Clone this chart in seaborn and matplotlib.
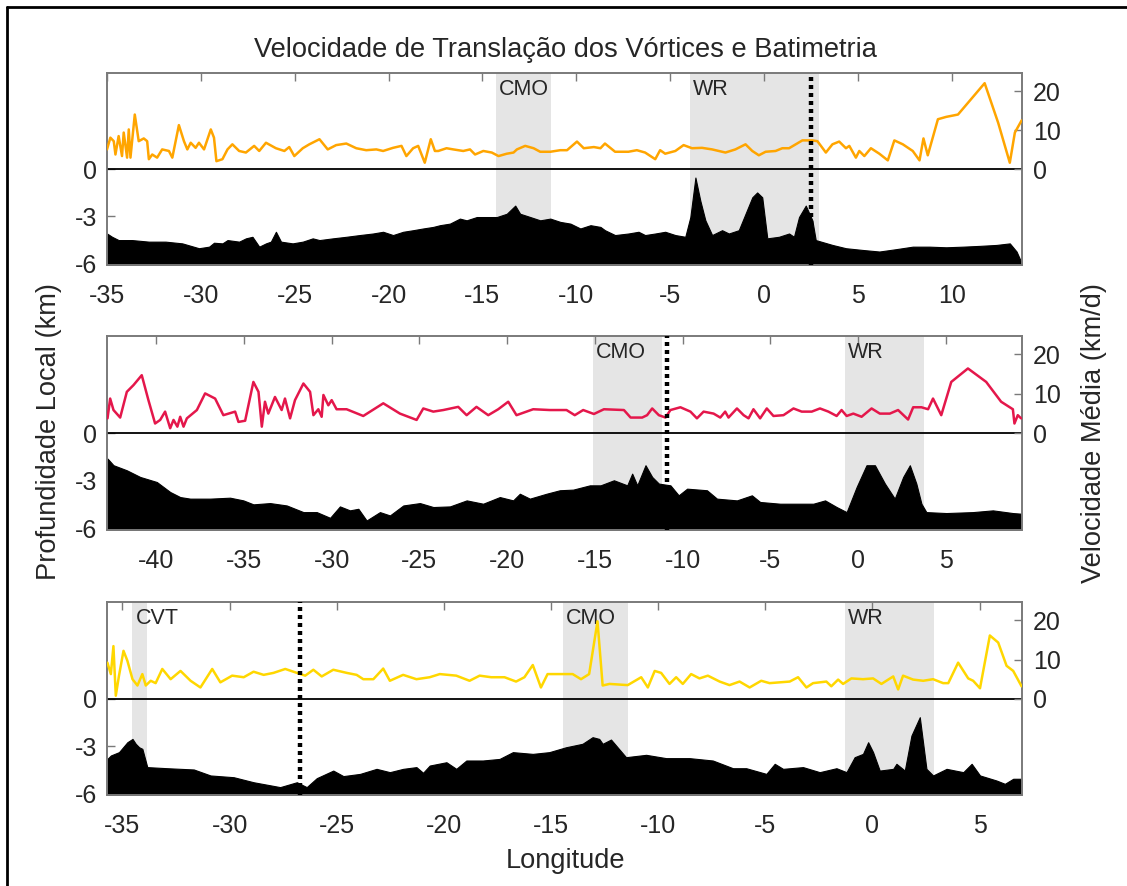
import matplotlib
matplotlib.use("Agg")
import matplotlib.pyplot as plt
import matplotlib.transforms as mtransforms
from matplotlib.lines import Line2D
import seaborn as sns

# ---------------- data ----------------
# Panel 1 (orange)
lon1_spd = [-35.0,-34.82,-34.64,-34.55,-34.38,-34.2,-34.11,-33.93,-33.84,-33.75,
            -33.52,-33.31,-33.04,-32.86,-32.77,-32.59,-32.33,-32.06,-31.7,-31.52,
            -31.17,-30.9,-30.72,-30.54,-30.28,-30.1,-29.83,-29.47,-29.3,-29.17,
            -28.85,-28.58,-28.32,-27.96,-27.6,-27.16,-26.89,-26.53,-26.0,-25.55,
            -25.29,-25.02,-24.57,-24.22,-23.68,-23.24,-22.79,-22.25,-21.72,-21.19,
            -20.65,-20.29,-19.76,-19.31,-19.05,-18.69,-18.42,-18.07,-17.75,-17.53,
            -17.35,-16.91,-16.55,-16.02,-15.66,-15.39,-14.95,-14.5,-14.14,-13.7,
            -13.34,-13.16,-12.72,-12.27,-11.92,-11.38,-10.85,-10.49,-9.96,-9.6,
            -9.06,-8.71,-8.47,-7.93,-7.22,-6.77,-6.33,-5.79,-5.53,-5.26,
            -4.72,-4.28,-3.83,-3.3,-2.76,-2.05,-1.52,-0.98,-0.62,-0.27,
            0.09,0.62,0.98,1.34,1.69,2.05,2.58,2.85,3.3,3.65,
            4.01,4.37,4.55,4.9,5.08,5.35,5.7,6.15,6.6,6.95,
            7.4,7.93,8.29,8.5,8.73,9.27,9.71,10.34,11.76,12.48,
            13.1,13.37,13.73]
spd1 = [5.1,8.1,7.2,3.8,8.5,3.4,9.4,3.0,10.2,3.0,
        14.0,7.2,7.9,7.2,2.6,3.8,3.0,5.1,4.7,3.0,
        11.3,7.2,5.1,6.8,5.5,6.8,5.1,10.2,8.1,2.1,
        2.6,5.1,6.4,4.7,4.3,6.0,4.7,6.8,5.4,4.7,
        5.7,3.4,5.4,6.4,7.7,5.1,6.2,6.6,5.4,4.9,
        5.1,4.7,5.5,6.0,3.4,5.4,6.0,1.7,7.7,4.7,
        4.7,5.4,5.1,4.7,5.1,3.8,4.7,4.3,3.4,4.0,
        4.3,5.1,6.0,5.4,4.5,4.5,4.9,4.9,7.1,5.4,
        5.7,5.4,6.6,4.5,4.5,4.9,4.3,2.6,4.9,4.0,
        4.7,6.2,5.4,5.5,5.1,4.3,5.1,6.4,4.7,3.6,
        4.5,4.7,5.4,5.4,6.4,7.4,7.4,7.2,4.3,6.4,
        7.1,5.4,6.0,3.0,4.7,3.4,5.4,4.0,2.3,7.4,
        6.4,4.7,2.3,7.9,3.6,12.8,13.4,14.0,22.0,11.9,
        1.7,9.4,12.5]
lon1_bat = [-35.0,-34.73,-34.38,-33.66,-32.77,-31.88,-30.99,-30.1,-29.56,-29.3,
            -28.85,-28.58,-27.96,-27.6,-27.25,-26.89,-26.53,-26.27,-26.0,-25.73,
            -25.11,-24.57,-24.04,-23.68,-22.97,-22.25,-21.54,-20.83,-20.29,-19.76,
            -19.22,-18.69,-18.16,-17.62,-17.26,-16.73,-16.2,-15.84,-15.3,-14.77,
            -14.23,-13.7,-13.25,-12.99,-12.45,-11.92,-11.38,-10.85,-10.31,-9.78,
            -9.24,-8.71,-8.47,-7.93,-7.22,-6.68,-6.33,-5.79,-5.26,-4.72,
            -4.19,-3.92,-3.65,-3.39,-3.12,-2.76,-2.23,-1.87,-1.34,-0.98,
            -0.62,-0.36,-0.09,0.18,0.8,1.34,1.6,1.87,2.23,2.58,
            2.76,3.65,4.37,5.26,6.15,7.04,7.93,8.82,9.71,10.61,
            11.5,12.39,13.1,13.46,13.73]
bat1 = [-4.09,-4.30,-4.51,-4.51,-4.61,-4.61,-4.72,-5.03,-4.93,-4.68,
        -4.72,-4.51,-4.61,-4.40,-4.30,-4.93,-4.72,-4.61,-3.98,-4.61,
        -4.72,-4.61,-4.40,-4.51,-4.40,-4.30,-4.19,-4.09,-3.98,-4.19,
        -3.98,-3.88,-3.77,-3.67,-3.56,-3.46,-3.14,-3.25,-3.04,-3.04,
        -3.04,-2.83,-2.31,-2.83,-3.04,-3.25,-3.14,-3.35,-3.46,-3.77,
        -3.56,-3.67,-3.88,-4.19,-4.09,-3.98,-4.19,-4.09,-3.98,-4.19,
        -4.30,-3.04,-0.52,-1.99,-3.25,-4.19,-3.88,-4.09,-3.88,-2.83,
        -1.78,-1.47,-1.78,-4.40,-4.30,-4.09,-4.30,-3.04,-2.31,-3.25,
        -4.51,-4.82,-5.03,-5.14,-5.24,-5.09,-4.93,-4.93,-4.97,-4.93,
        -4.88,-4.82,-4.72,-5.24,-5.97]

# Panel 2 (red)
lon2_spd = [-42.77,-42.62,-42.43,-42.05,-41.67,-41.29,-40.82,-40.44,-40.06,-39.77,
            -39.49,-39.2,-39.01,-38.79,-38.63,-38.44,-38.25,-37.68,-37.21,-36.64,
            -36.17,-35.5,-35.31,-34.93,-34.46,-34.17,-33.98,-33.8,-33.61,-33.23,
            -32.85,-32.66,-32.37,-32.09,-31.61,-31.23,-31.04,-30.76,-30.57,-30.47,
            -30.19,-30.0,-29.72,-29.15,-28.2,-27.06,-26.11,-25.16,-24.78,-24.21,
            -23.64,-22.79,-22.31,-21.75,-21.08,-20.51,-19.94,-19.47,-18.52,-17.57,
            -16.62,-16.15,-15.67,
            -15.06,-14.49,-13.35,-12.97,-12.31,-12.03,-11.74,-11.36,-10.98,-10.7,
            -10.13,-9.56,-9.19,-8.81,-8.24,-7.86,-7.58,-7.39,-6.91,-6.53,
            -6.25,-5.97,-5.59,-5.21,-4.83,-4.26,-3.69,-3.22,-2.65,-2.18,
            -1.7,-1.23,-0.95,-0.66,-0.28,0.19,0.76,1.23,1.8,2.27,
            2.84,3.13,3.6,3.98,4.26,4.73,5.3,6.25,7.29,8.14,
            8.81,8.9,9.09,9.28]
spd2 = [3.8,8.8,5.9,4.0,10.5,12.2,14.7,8.4,2.5,3.4,
        5.5,1.3,3.4,1.7,4.2,1.7,3.8,5.9,10.1,8.8,
        4.6,5.5,2.9,3.2,13.0,10.5,1.7,8.0,5.0,9.2,
        5.9,8.8,3.8,8.4,12.6,10.5,4.6,6.1,4.2,9.7,
        7.1,8.4,6.1,6.1,4.4,7.6,5.0,3.4,6.3,5.5,
        5.9,6.7,4.6,6.7,4.6,6.1,8.0,4.6,6.1,5.9,
        5.9,4.6,5.9,
        4.9,6.1,5.9,4.0,4.0,4.6,6.3,4.6,4.0,5.9,
        6.6,5.5,3.8,5.5,5.0,4.0,5.5,4.0,6.3,4.6,
        3.8,6.1,3.8,6.3,4.4,4.6,6.3,5.5,5.5,6.3,
        5.5,4.4,5.9,4.4,5.0,4.2,6.3,5.0,5.0,5.9,
        3.5,6.6,6.6,6.1,8.8,4.6,13.0,16.4,13.0,8.0,
        6.1,2.5,4.6,3.8]
lon2_bat = [-42.77,-42.43,-41.67,-40.91,-39.96,-39.2,-38.63,-38.06,-36.93,-35.79,
            -35.03,-34.46,-33.51,-32.56,-31.61,-30.85,-30.09,-29.53,-28.96,-28.48,
            -28.01,-27.25,-26.68,-25.92,-24.97,-24.21,-23.26,-22.31,-21.37,-20.42,
            -19.66,-19.28,-18.71,-17.76,-17.0,-16.24,-15.29,
            -14.68,-13.92,-13.16,-12.88,-12.59,-12.12,-11.74,-11.36,-10.7,-10.23,
            -9.75,-8.62,-8.05,-6.91,-6.06,-5.59,-4.45,-3.5,-2.56,-1.89,
            -1.23,-0.66,-0.09,0.47,0.95,1.52,2.08,2.56,2.94,3.31,
            3.6,3.88,5.02,6.53,7.67,8.81,9.28]
bat2 = [-1.59,-2.01,-2.33,-2.75,-3.07,-3.70,-4.02,-4.12,-4.12,-4.06,
        -4.23,-4.48,-4.40,-4.55,-4.97,-4.97,-5.33,-4.61,-4.86,-4.76,
        -5.50,-4.97,-5.18,-4.55,-4.40,-4.65,-4.61,-4.23,-4.44,-4.02,
        -4.23,-3.81,-4.12,-3.81,-3.59,-3.55,-3.28,
        -3.28,-2.96,-3.28,-2.54,-3.28,-2.01,-2.75,-3.17,-3.28,-3.91,
        -3.49,-3.59,-4.12,-4.23,-3.91,-4.33,-4.44,-4.44,-4.44,-4.23,
        -4.65,-4.97,-3.38,-2.01,-2.01,-3.17,-4.12,-2.75,-2.01,-3.17,
        -4.44,-4.97,-5.03,-4.97,-4.86,-5.03,-5.07]

# Panel 3 (yellow)
lon3_spd = [-35.7,-35.54,-35.42,-35.31,-35.16,-34.95,-34.77,-34.53,-34.3,-34.07,
            -33.91,-33.68,-33.45,-33.14,-32.75,-32.29,-31.82,-31.36,-30.81,-30.43,
            -29.88,-29.34,-28.88,-28.41,-27.95,-27.4,-26.86,-26.47,-26.09,-25.7,
            -25.16,-24.53,-24.07,-23.76,-23.29,-22.83,-22.52,-21.9,-21.28,-20.66,
            -20.19,-19.42,-18.8,-18.33,-17.79,-17.17,-16.63,-16.24,-15.85,-15.47,
            -15.16,-14.3,-13.99,-13.6,-13.22,-12.83,
            -12.59,-12.27,-11.42,-10.79,
            -10.48,-10.16,-9.86,-9.47,-9.16,-8.85,-8.46,-8.07,-7.68,-7.13,
            -6.67,-6.2,-5.73,-5.19,-4.8,-4.33,-3.86,-3.47,-3.08,-2.77,
            -2.15,-1.92,-1.6,-1.37,-0.98,-0.44,0.03,0.42,0.97,1.2,
            1.43,1.9,2.37,2.83,3.3,3.54,4.0,4.47,4.7,5.02,
            5.48,5.87,6.26,6.57,6.96]
spd3 = [9.2,6.3,13.4,0.8,5.9,12.2,9.7,5.0,3.4,6.3,
        3.4,4.6,4.0,7.6,5.0,7.1,4.6,2.9,7.6,4.2,
        5.9,5.5,6.9,6.1,6.6,7.6,6.6,5.9,7.4,5.7,
        7.4,6.6,6.1,5.0,5.0,7.7,4.6,6.1,5.0,5.5,
        6.3,5.9,4.6,5.9,5.5,5.5,4.4,5.5,8.6,2.9,
        6.3,6.3,6.3,5.0,6.3,19.7,
        3.4,3.8,3.5,5.5,
        2.9,7.1,6.6,3.8,5.5,3.8,6.3,5.2,5.9,4.4,
        3.5,4.4,2.9,4.6,4.0,4.2,4.4,5.5,2.9,4.0,
        4.4,3.2,4.9,3.8,5.2,5.0,5.2,3.8,5.7,2.4,
        5.9,4.9,4.6,5.0,4.0,4.0,9.2,5.2,4.6,2.7,
        16.1,14.3,8.4,7.1,3.2]
lon3_bat = [-35.7,-35.54,-35.16,-34.77,-34.53,-34.38,-34.22,-34.07,-33.84,-32.91,
            -31.67,-30.89,-29.81,-28.88,-27.64,-26.86,-26.4,-25.93,-25.16,-24.69,
            -23.91,-23.14,-22.52,-21.9,-21.28,-20.97,-20.66,-19.88,-19.42,-18.95,
            -18.18,-17.4,-16.78,-15.85,-15.08,-14.3,-13.53,-13.06,-12.75,
            -12.59,-12.2,-11.5,-10.56,-9.63,-8.54,-7.45,-6.51,-5.89,-4.95,
            -4.56,-4.17,-3.24,-2.46,-1.68,-1.21,-0.83,-0.44,-0.2,0.03,
            0.34,0.97,1.12,1.51,1.82,2.21,2.52,2.83,3.46,4.24,
            4.63,5.02,5.79,6.18,6.57,6.96]
bat3 = [-3.81,-3.59,-3.38,-2.75,-2.54,-2.85,-3.07,-3.17,-4.33,-4.40,
        -4.48,-4.86,-4.97,-5.29,-5.60,-5.29,-5.60,-5.03,-4.55,-4.90,
        -4.76,-4.44,-4.65,-4.44,-4.33,-4.69,-4.23,-4.02,-4.44,-3.91,
        -3.91,-3.81,-3.38,-3.49,-3.38,-3.07,-2.85,-2.43,-2.54,
        -2.85,-2.58,-3.70,-3.55,-3.76,-3.76,-3.91,-4.40,-4.40,-4.76,
        -4.12,-4.44,-4.33,-4.65,-4.40,-4.65,-3.70,-3.49,-2.75,-3.38,
        -4.55,-4.44,-4.12,-4.55,-2.33,-1.16,-4.44,-4.86,-4.44,-4.65,
        -4.12,-4.86,-5.18,-5.39,-5.07,-5.07]

# shaded regions (name, start lon, end lon) and dotted marker
regions1 = [("CMO", -14.25, -11.36), ("WR", -3.93, 2.91)]
regions2 = [("CMO", -15.1, -11.17), ("WR", -0.74, 3.76)]
regions3 = [("CVT", -34.53, -33.83), ("CMO", -14.44, -11.41), ("WR", -1.29, 2.86)]
dotted_lon = [2.49, -10.88, -26.7]

xlims = [(-35.0, 13.75), (-42.8, 9.33), (-35.72, 6.98)]
xticks = [list(range(-35, 11, 5)), list(range(-40, 6, 5)), list(range(-35, 6, 5))]
colors = ["#FFA500", "#E4174B", "#FFD700"]

title = "Velocidade de Translação dos Vórtices e Batimetria"
ylabel_left = "Profundidade Local (km)"
ylabel_right = "Velocidade Média (km/d)"
xlabel = "Longitude"

# ---------------- plot ----------------
sns.set_theme(style="white")
plt.rcParams["font.family"] = ["Liberation Sans", "DejaVu Sans"]

W, H = 1127, 886
fig = plt.figure(figsize=(W / 100, H / 100), dpi=100)

panels = [
    (lon1_spd, spd1, lon1_bat, bat1, regions1),
    (lon2_spd, spd2, lon2_bat, bat2, regions2),
    (lon3_spd, spd3, lon3_bat, bat3, regions3),
]
boxes = [(73, 265), (336, 530), (602, 795)]
left_px, right_px = 107, 1022
spine_col = "#7a7a7a"
TICK_FS = 18
LAB_FS = 19.6

LEFT_LIM = (-6.1, 6.15)
RIGHT_LIM = (-24.4, 24.6)

for i, (lon_s, spd, lon_b, bat, regs) in enumerate(panels):
    top, bot = boxes[i]
    ax = fig.add_axes([left_px / W, 1 - bot / H, (right_px - left_px) / W, (bot - top) / H])
    for name, a, b in regs:
        ax.axvspan(a, b, color="#e5e5e5", lw=0, zorder=0)
        trans = mtransforms.blended_transform_factory(ax.transData, ax.transAxes)
        ax.text(a + 0.15, 0.915, name, transform=trans, ha="left", va="center",
                fontsize=15.5, color="#262626", zorder=3)
    ax.fill_between(lon_b, bat, -10, color="black", lw=0.8, edgecolor="black", zorder=2)
    ax.axhline(0, color="black", lw=1.3, zorder=3)
    ax.set_xlim(*xlims[i])
    ax.set_ylim(*LEFT_LIM)
    ax.set_xticks(xticks[i])
    ax.set_yticks([-6, -3, 0])
    ax.set_yticklabels(["-6", "-3", "0"])
    ax.set_xticklabels([str(t) for t in xticks[i]])
    ax.tick_params(axis="x", direction="in", length=6, width=1, color=spine_col,
                   top=True, bottom=True, labelsize=TICK_FS, pad=14, labelcolor="#262626")
    ax.tick_params(axis="y", direction="in", length=6, width=1, color=spine_col,
                   left=True, right=True, labelsize=TICK_FS, pad=7, labelcolor="#262626")
    ax.grid(False)

    ax2 = ax.twinx()
    sns.lineplot(x=lon_s, y=spd, ax=ax2, color=colors[i], lw=1.8,
                 estimator=None, sort=False, zorder=4)
    ax2.axvline(dotted_lon[i], color="black", lw=3.2, ls=(0, (0.9, 0.9)), zorder=5)
    ax2.set_ylim(*RIGHT_LIM)
    ax2.set_xlim(*xlims[i])
    ax2.set_yticks([0, 10, 20])
    ax2.set_yticklabels(["0", "10", "20"])
    ax2.tick_params(axis="y", direction="in", length=6, width=1, color=spine_col,
                    right=True, left=False, labelsize=TICK_FS, pad=8, labelcolor="#262626")
    ax2.set_xlabel("")
    ax2.set_ylabel("")
    ax2.grid(False)
    for a_ in (ax, ax2):
        for s in a_.spines.values():
            s.set_color(spine_col)
            s.set_linewidth(1.2)

fig.text(565 / W, 1 - 50 / H, title, ha="center", va="center", fontsize=LAB_FS, color="#262626")
fig.text(49 / W, 1 - 432 / H, ylabel_left, ha="center", va="center", rotation=90,
         fontsize=LAB_FS, color="#262626")
fig.text(1094 / W, 1 - 433 / H, ylabel_right, ha="center", va="center", rotation=90,
         fontsize=LAB_FS, color="#262626")
fig.text(565 / W, 1 - 861 / H, xlabel, ha="center", va="center", fontsize=LAB_FS, color="#262626")

# outer frame (left and top edges visible)
fig.add_artist(Line2D([7 / W, 7 / W], [0, 1 - 7 / H], transform=fig.transFigure, color="black", lw=2))
fig.add_artist(Line2D([7 / W, 1], [1 - 7 / H, 1 - 7 / H], transform=fig.transFigure, color="black", lw=2))

fig.savefig("out.png", dpi=100)
